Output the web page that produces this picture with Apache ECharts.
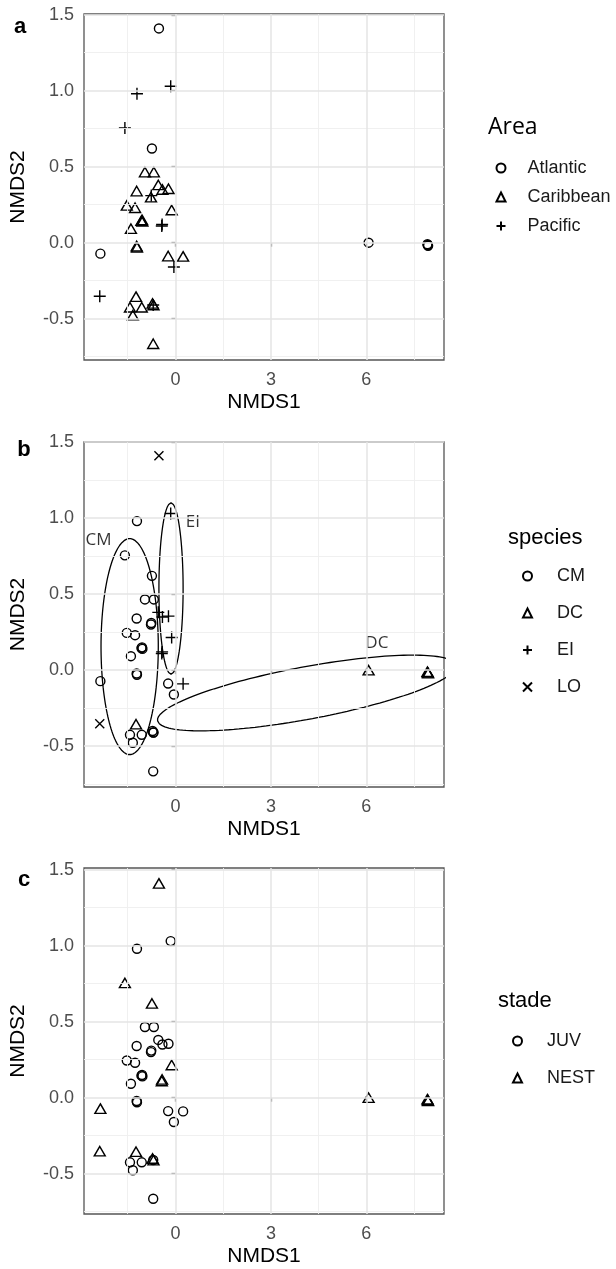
<!DOCTYPE html>
<html><head><meta charset="utf-8">
<script src="https://cdn.jsdelivr.net/npm/echarts@6/dist/echarts.min.js"></script>
<style>html,body{margin:0;padding:0;background:#fff}#c{width:616px;height:1269px}</style>
</head><body><div id="c"></div>
<script>
// ---- data ----
const NMDS1 = [-0.52,-1.21,-0.15,-1.59,-0.74,-0.96,-0.68,-0.54,-0.41,-0.22,-1.22,-0.77,-0.76,-1.53,-1.27,-0.12,-1.07,-1.04,-1.05,-1.40,-0.43,-0.42,-1.22,-1.21,-2.36,-0.23,0.24,-0.05,-2.38,-1.24,-1.43,-1.06,-1.34,-0.72,-0.69,-0.70,-0.70,6.07,7.93,7.94,7.92];
const NMDS2 = [1.41,0.98,1.03,0.755,0.62,0.465,0.465,0.38,0.35,0.355,0.34,0.30,0.31,0.245,0.23,0.215,0.145,0.14,0.15,0.092,0.11,0.12,-0.022,-0.03,-0.072,-0.088,-0.09,-0.16,-0.352,-0.355,-0.425,-0.425,-0.477,-0.40,-0.41,-0.41,-0.665,0.0,-0.015,-0.02,-0.01];
const area = ['Atlantic','Pacific','Pacific','Pacific','Atlantic','Caribbean','Caribbean','Caribbean','Caribbean','Caribbean','Caribbean','Caribbean','Pacific','Caribbean','Caribbean','Caribbean','Caribbean','Caribbean','Caribbean','Caribbean','Pacific','Pacific','Caribbean','Caribbean','Atlantic','Caribbean','Caribbean','Pacific','Pacific','Caribbean','Caribbean','Caribbean','Caribbean','Caribbean','Caribbean','Pacific','Caribbean','Atlantic','Atlantic','Atlantic','Atlantic'];
const species = ['LO','CM','EI','CM','CM','CM','CM','EI','EI','EI','CM','CM','CM','CM','CM','EI','CM','CM','CM','CM','EI','EI','CM','CM','CM','CM','EI','CM','LO','DC','CM','CM','CM','CM','CM','CM','CM','DC','DC','DC','DC'];
const stade = ['NEST','JUV','JUV','NEST','NEST','JUV','JUV','JUV','JUV','JUV','JUV','JUV','JUV','JUV','JUV','NEST','JUV','JUV','JUV','JUV','NEST','NEST','JUV','JUV','NEST','JUV','JUV','JUV','NEST','NEST','JUV','JUV','JUV','NEST','NEST','JUV','JUV','NEST','NEST','NEST','NEST'];

const areaLevels = ['Atlantic','Caribbean','Pacific'];
const speciesLevels = ['CM','DC','EI','LO'];
const stadeLevels = ['JUV','NEST'];

const xTicks = [0, 3, 6];
const xMinor = [-1.5, 1.5, 4.5, 7.5];
const yTicks = [-0.5, 0, 0.5, 1, 1.5];
const yMinor = [-0.75, -0.25, 0.25, 0.75, 1.25];
const xRange = [-2.875, 8.44];
const yRanges = [[-0.772, 1.505], [-0.768, 1.5], [-0.765, 1.511]];

// ellipses in panel b (centre, conjugate half-axes)
const ellipseNames = ['CM', 'EI', 'DC'];
const ellipseCenter = [[-1.44, 0.155], [-0.14, 0.537], [4.125, -0.15]];
const ellipseU = [[0.9, 0], [0.38, 0], [4.69, 0.177]];
const ellipseV = [[0, 0.71], [0, 0.563], [0, 0.175]];
const ellipseLabelPos = [[-2.42, 0.855], [0.55, 0.97], [6.33, 0.18]];

// ---- styling ----
const PLUS = 'path://M5,0L5,10M0,5L10,5';
const CROSS = 'path://M0,0L10,10M10,0L0,10';
const shapeOf = {Atlantic:'circle', Caribbean:'triangle', Pacific:PLUS,
  CM:'circle', DC:'triangle', EI:PLUS, LO:CROSS, JUV:'circle', NEST:'triangle'};
function sizeOf(s){ if(s==='circle') return 9; if(s==='triangle') return [11,9.5]; if(s===PLUS) return 12; return 9; }

const FONT = 'Liberation Sans';
const grids = [{left:82, top:14, width:362, height:346},
               {left:82, top:442, width:362, height:345},
               {left:82, top:868, width:362, height:346}];
const panels = [
  {groups: area, levels: areaLevels},
  {groups: species, levels: speciesLevels},
  {groups: stade, levels: stadeLevels}
];

const option = {
  animation: false,
  backgroundColor: '#fff',
  grid: grids.map(g => Object.assign({show:true, borderColor:'#555', borderWidth:1.3, backgroundColor:'#fff'}, g)),
  xAxis: grids.map((g, i) => ({
    type:'value', gridIndex:i, min:xRange[0], max:xRange[1],
    name:'NMDS1', nameLocation:'middle', nameGap:32,
    nameTextStyle:{fontFamily:FONT, fontSize:21, color:'#000'},
    axisLine:{show:false}, splitLine:{show:false},
    axisTick:{show:true, length:4, customValues:xTicks, lineStyle:{color:'#444', width:1.2}},
    axisLabel:{customValues:xTicks, margin:11, fontFamily:FONT, fontSize:18, color:'#4d4d4d', formatter: v => String(v)}
  })),
  yAxis: grids.map((g, i) => ({
    type:'value', gridIndex:i, min:yRanges[i][0], max:yRanges[i][1],
    name:'NMDS2', nameLocation:'middle', nameGap:55, nameRotate:90,
    nameTextStyle:{fontFamily:FONT, fontSize:21, color:'#000'},
    axisLine:{show:false}, splitLine:{show:false},
    axisTick:{show:true, length:4, customValues:yTicks, lineStyle:{color:'#444', width:1.2}},
    axisLabel:{customValues:yTicks, margin:10, fontFamily:FONT, fontSize:18, color:'#4d4d4d', formatter: v => v.toFixed(1)}
  })),
  legend: [
    {data: areaLevels, orient:'vertical', left:495.5, top:158, itemGap:9},
    {data: speciesLevels, orient:'vertical', left:522, top:566, itemGap:17},
    {data: stadeLevels, orient:'vertical', left:512, top:1031, itemGap:17}
  ].map((l, i) => Object.assign({
    padding:0, itemWidth:9, itemHeight:9, selectedMode:false,
    textStyle:{fontFamily:FONT, fontSize:18, color:'#1a1a1a', lineHeight:20, padding:[0,0,0,[17,20,20][i]]}
  }, l)),
  graphic: [
    {type:'text', x:488, y:127, style:{text:'Area', fontFamily:'Open Sans', fontSize:23, fill:'#000', verticalAlign:'middle'}},
    {type:'text', x:508, y:538, style:{text:'species', fontFamily:FONT, fontSize:22, fill:'#000', verticalAlign:'middle'}},
    {type:'text', x:498, y:1001, style:{text:'stade', fontFamily:FONT, fontSize:22, fill:'#000', verticalAlign:'middle'}},
    {type:'text', x:20, y:27, style:{text:'a', fontFamily:FONT, fontSize:22, fontWeight:'bold', fill:'#000', align:'center', verticalAlign:'middle'}},
    {type:'text', x:24, y:450, style:{text:'b', fontFamily:FONT, fontSize:22, fontWeight:'bold', fill:'#000', align:'center', verticalAlign:'middle'}},
    {type:'text', x:24, y:880, style:{text:'c', fontFamily:FONT, fontSize:22, fontWeight:'bold', fill:'#000', align:'center', verticalAlign:'middle'}}
  ],
  series: []
};

// grid lines via markLine on a placeholder series per panel
grids.forEach((g, i) => {
  const major = {color:'#e4e4e4', width:1.5, type:'solid'};
  const minor = {color:'#eeeeee', width:0.9, type:'solid'};
  const lines = [];
  xMinor.forEach(v => lines.push({xAxis:v, lineStyle:minor}));
  yMinor.forEach(v => lines.push({yAxis:v, lineStyle:minor}));
  xTicks.forEach(v => lines.push({xAxis:v, lineStyle:major}));
  yTicks.forEach(v => lines.push({yAxis:v, lineStyle:major}));
  option.series.push({
    type:'scatter', name:'grid'+i, xAxisIndex:i, yAxisIndex:i, data:[], z:1, silent:true,
    markLine:{silent:true, symbol:['none','none'], label:{show:false}, animation:false, data:lines}
  });
});

// ellipses in panel b
ellipseNames.forEach((n, k) => {
  const pts = [];
  for (let s = 0; s <= 160; s++) {
    const t = 2 * Math.PI * s / 160;
    pts.push([ellipseCenter[k][0] + ellipseU[k][0]*Math.cos(t) + ellipseV[k][0]*Math.sin(t),
              ellipseCenter[k][1] + ellipseU[k][1]*Math.cos(t) + ellipseV[k][1]*Math.sin(t)]);
  }
  option.series.push({type:'line', name:'ellipse '+n, xAxisIndex:1, yAxisIndex:1, data:pts, showSymbol:false,
    symbol:'none', clip:true, z:2, silent:true, lineStyle:{color:'#000', width:1.3}});
});
option.series.push({type:'scatter', name:'ellipse labels', xAxisIndex:1, yAxisIndex:1, z:4, silent:true,
  symbolSize:1, itemStyle:{color:'transparent'},
  data: ellipseNames.map((n, k) => ({name:n, value:ellipseLabelPos[k]})),
  label:{show:true, position:'inside', formatter: p => p.name, fontFamily:'Open Sans', fontSize:17, color:'#000'}});

// points
panels.forEach((p, i) => {
  p.levels.forEach(lv => {
    const sym = shapeOf[lv];
    const data = [];
    NMDS1.forEach((x, j) => { if (p.groups[j] === lv) data.push([x, NMDS2[j]]); });
    option.series.push({
      type:'scatter', name:lv, xAxisIndex:i, yAxisIndex:i, data, z:3,
      symbol:sym, symbolSize:sizeOf(sym), symbolKeepAspect:true,
      itemStyle:{color:'transparent', borderColor:'#000', borderWidth:1.4, opacity:1},
      emphasis:{disabled:true}
    });
  });
});

const chart = echarts.init(document.getElementById('c'), null, {renderer:'canvas'});
chart.setOption(option);
</script></body></html>
